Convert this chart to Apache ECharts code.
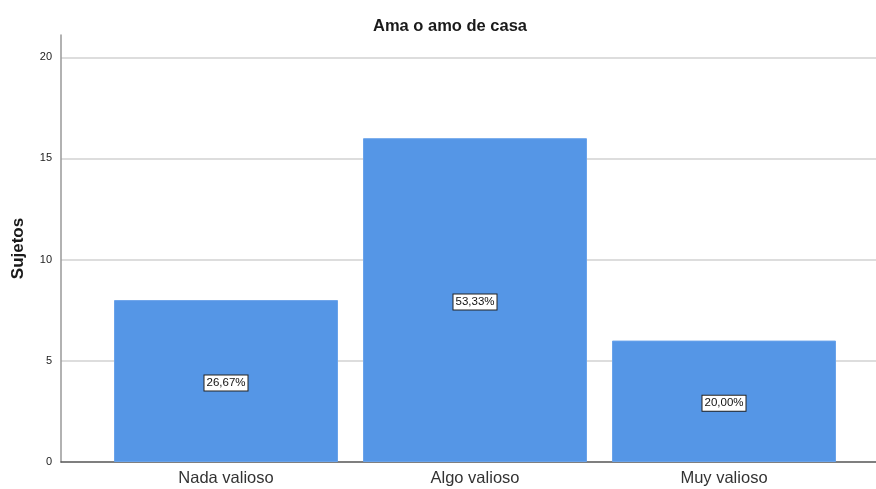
<!DOCTYPE html>
<html>
<head>
<meta charset="utf-8">
<script src="https://cdn.jsdelivr.net/npm/echarts@6/dist/echarts.min.js"></script>
<style>
  html, body { margin: 0; padding: 0; background: #fff; }
  #chart { width: 876px; height: 489px; }
</style>
</head>
<body>
<div id="chart"></div>
<script>
// Ama o amo de casa — frequency bar chart

const categories = ["Nada valioso", "Algo valioso", "Muy valioso"];
const counts     = [8, 16, 6];
const percents   = ["26,67%", "53,33%", "20,00%"];
const yTicks     = [0, 5, 10, 15, 20];

const chart = echarts.init(document.getElementById("chart"), null, { renderer: "canvas" });

const FONT = "Liberation Sans, Arial, sans-serif";
const Y_MAX = 21.1;

const option = {
  backgroundColor: "#fff",
  animation: false,
  title: {
    text: "Ama o amo de casa",
    left: 445,
    top: 13,
    textAlign: "center",
    textStyle: { fontFamily: FONT, fontSize: 16.5, fontWeight: "bold", color: "#1a1a1a" },
  },
  grid: [
    // background grid: y axis, gridlines, baseline
    { left: 61, right: 0, top: 35, bottom: 27 },
    // bars
    { left: 101.5, right: 27.5, top: 35, bottom: 27 },
  ],
  xAxis: [
    {
      gridIndex: 0,
      type: "category",
      data: [""],
      axisLine: { lineStyle: { color: "#555", width: 1.5 } },
      axisTick: { show: false },
      axisLabel: { show: false },
    },
    {
      gridIndex: 1,
      type: "category",
      data: categories,
      axisLine: { show: false },
      axisTick: { show: false },
      axisLabel: { fontFamily: FONT, fontSize: 16.5, color: "#333", margin: 8 },
    },
  ],
  yAxis: [
    {
      gridIndex: 0,
      type: "value",
      min: 0,
      max: Y_MAX,
      interval: 5,
      name: "Sujetos",
      nameLocation: "middle",
      nameGap: 34,
      nameTextStyle: { fontFamily: FONT, fontSize: 17, fontWeight: "bold", color: "#1a1a1a" },
      axisLine: { show: true, lineStyle: { color: "#999", width: 1.5 } },
      axisTick: { show: false },
      axisLabel: {
        fontFamily: FONT, fontSize: 11, color: "#222", margin: 9,
        showMaxLabel: false,
        formatter: (v) => (yTicks.includes(v) ? String(v) : ""),
      },
      splitLine: { show: true, showMinLine: false, showMaxLine: false, lineStyle: { color: "#d2d2d2", width: 1.5 } },
    },
    {
      gridIndex: 1,
      type: "value",
      min: 0,
      max: Y_MAX,
      interval: 5,
      show: false,
      splitLine: { show: false },
    },
  ],
  series: [
    {
      type: "bar",
      xAxisIndex: 1,
      yAxisIndex: 1,
      data: counts,
      barWidth: 224,
      itemStyle: { color: "#5596e6", borderColor: "#6aa3ea", borderWidth: 1 },
      label: {
        show: true,
        position: "inside",
        offset: [0, 2],
        formatter: (p) => percents[p.dataIndex],
        fontFamily: FONT,
        fontSize: 11.5,
        color: "#111",
        backgroundColor: "#fff",
        borderColor: "#222",
        borderWidth: 1,
        padding: [2, 2, 1, 2],
      },
    },
  ],
};

chart.setOption(option);
window.addEventListener("resize", () => chart.resize());
</script>
</body>
</html>
